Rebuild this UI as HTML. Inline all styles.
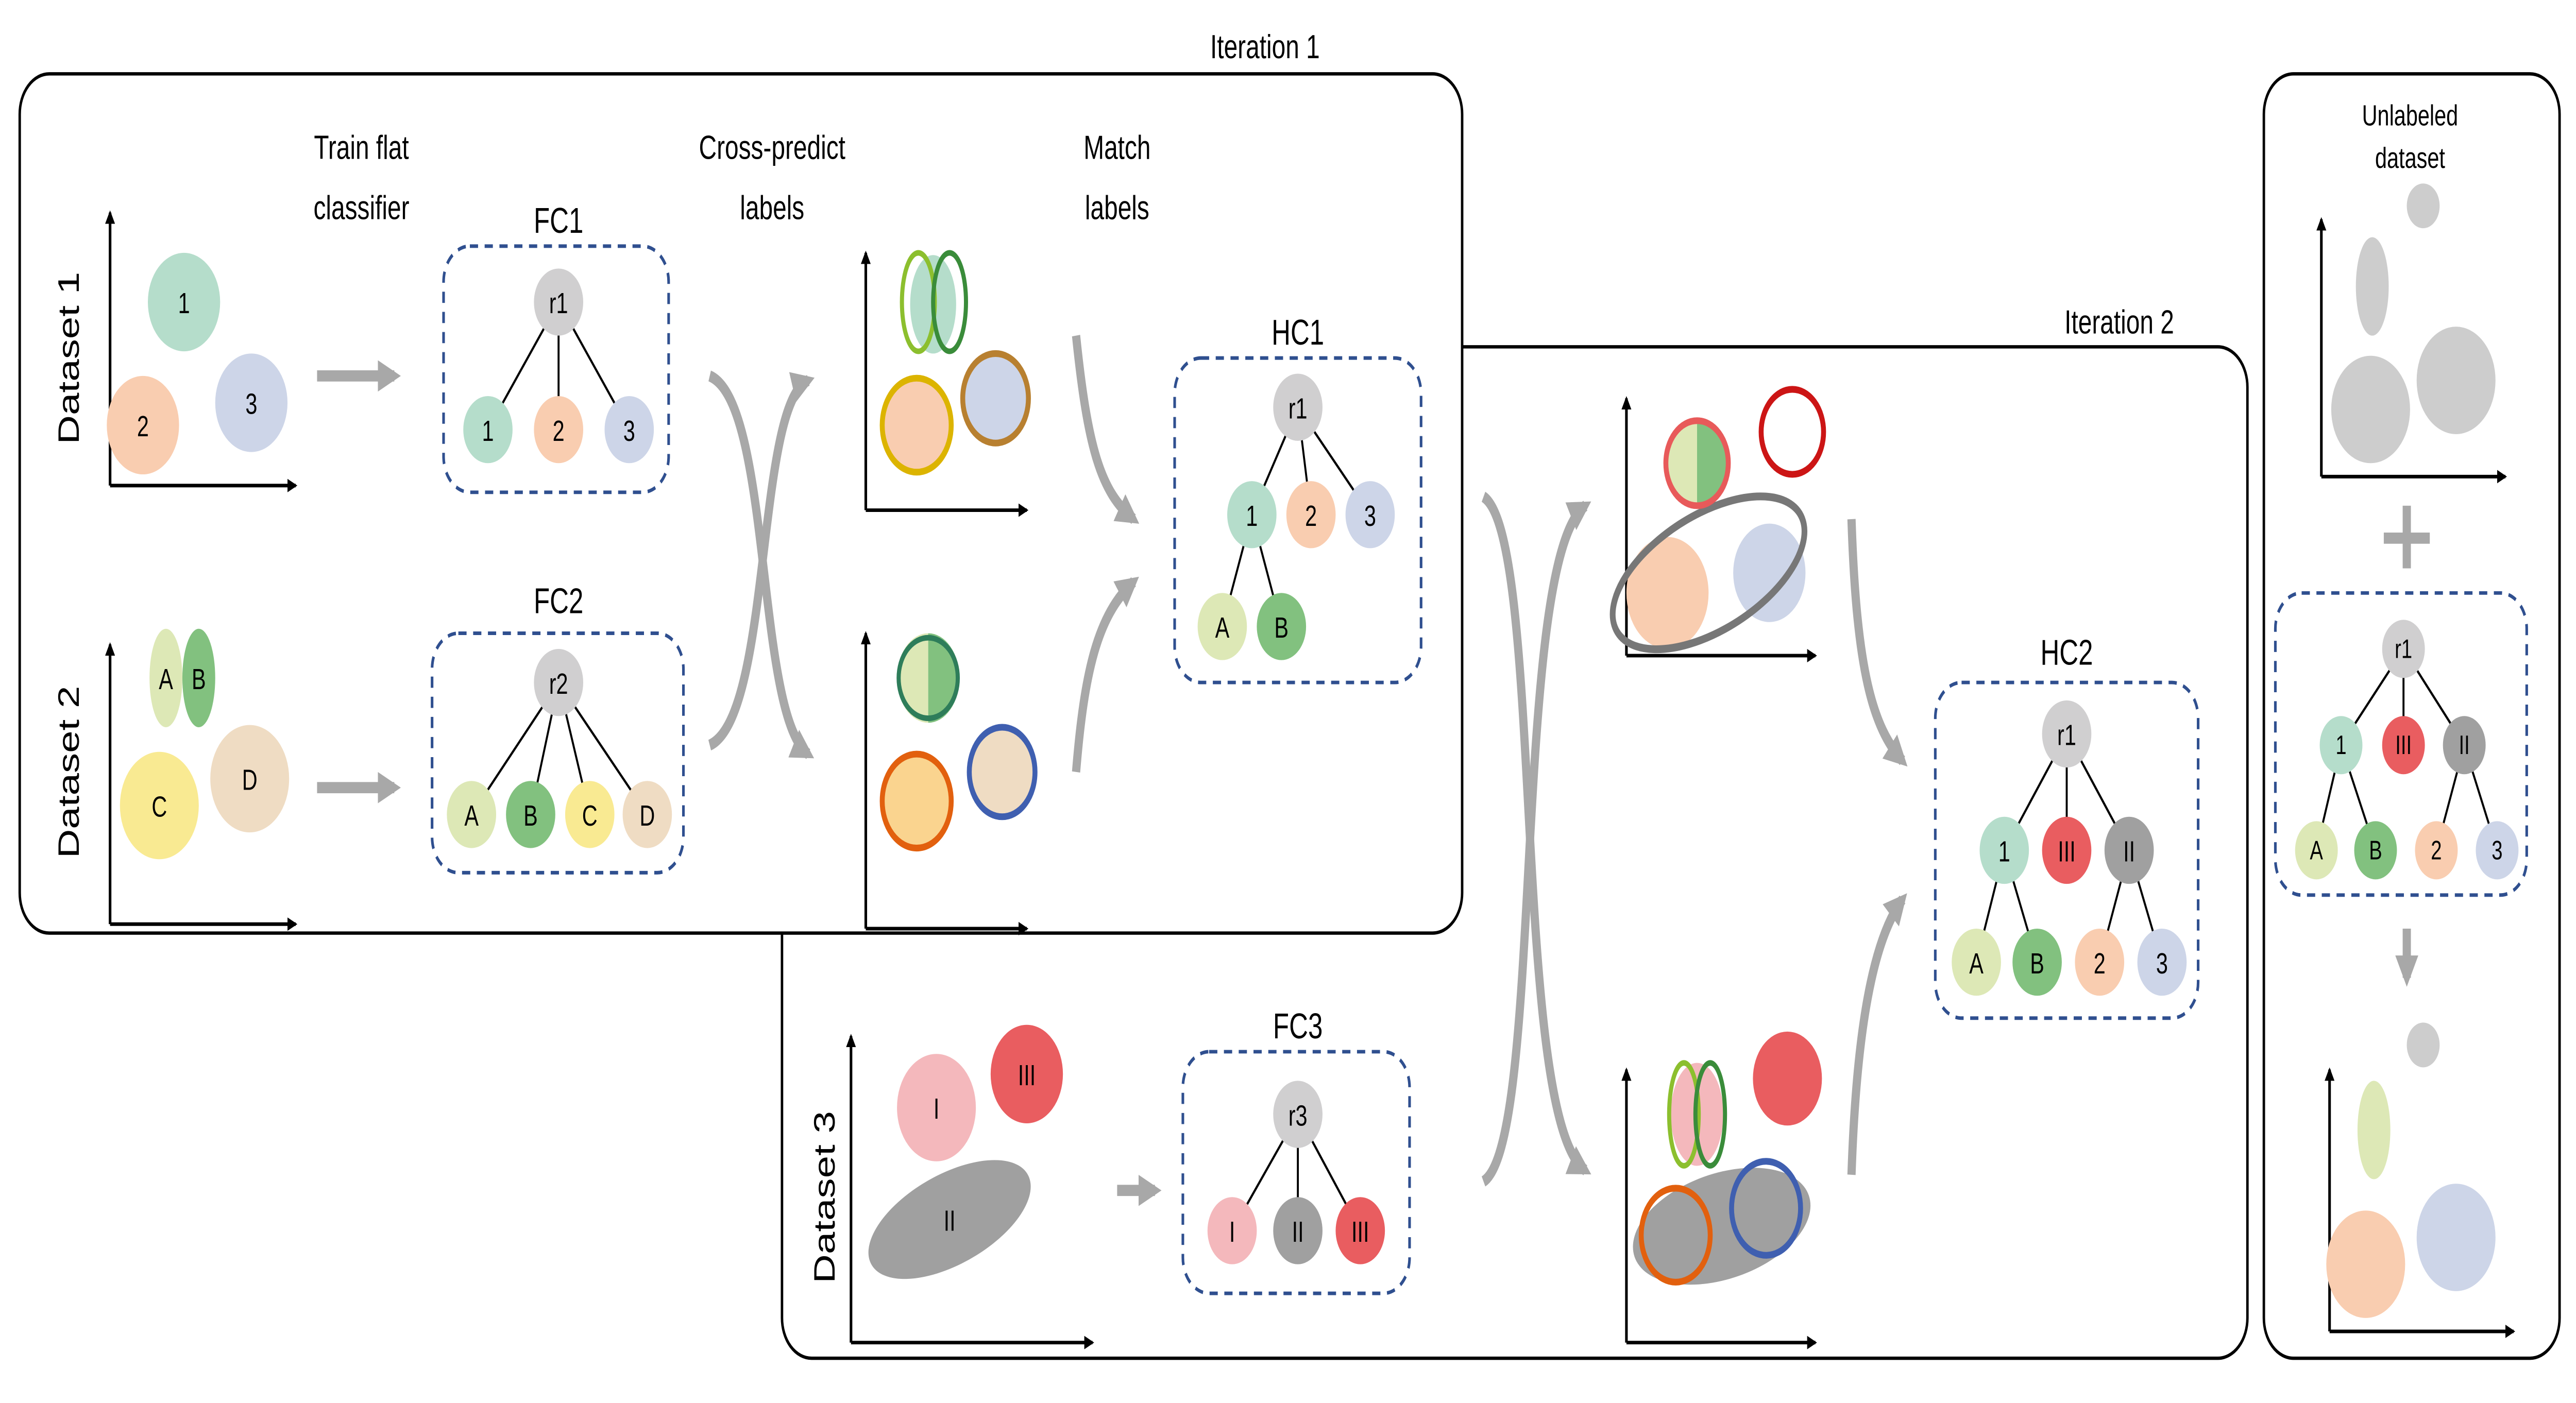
<!DOCTYPE html>
<html><head><meta charset="utf-8"><style>
html,body{margin:0;padding:0;background:#fff;overflow:hidden;width:100%;height:100%;}
svg{display:block;width:100vw;height:100vh;}
text{font-family:"Liberation Sans",sans-serif;}
</style></head><body>
<svg viewBox="0 0 1568 627" preserveAspectRatio="none" xmlns="http://www.w3.org/2000/svg">
<defs>
<marker id="ah" markerWidth="6" markerHeight="6" refX="5" refY="3" orient="auto" markerUnits="userSpaceOnUse" viewBox="0 0 6 6"><path d="M0,0 L6,3 L0,6 z" fill="#000"/></marker>
<marker id="gh" markerWidth="14" markerHeight="14" refX="10" refY="7" orient="auto" markerUnits="userSpaceOnUse" viewBox="0 0 14 14"><path d="M0,0 L14,7 L0,14 z" fill="#a8a8a8"/></marker>
</defs>
<rect width="1568" height="627" fill="#fff"/>
<rect x="476" y="155" width="892" height="452" rx="18" fill="#fff" stroke="#000" stroke-width="1.5"/>
<rect x="12" y="33" width="878" height="384" rx="18" fill="#fff" stroke="#000" stroke-width="1.5"/>
<rect x="1378" y="33" width="180" height="574" rx="18" fill="#fff" stroke="#000" stroke-width="1.5"/>
<text x="770" y="26" font-size="15" text-anchor="middle">Iteration 1</text>
<text x="1290" y="149" font-size="15" text-anchor="middle">Iteration 2</text>

<g font-size="15" text-anchor="middle">
<text x="220" y="71">Train flat</text><text x="220" y="98">classifier</text>
<text x="470" y="71">Cross-predict</text><text x="470" y="98">labels</text>
<text x="680" y="71">Match</text><text x="680" y="98">labels</text>
<text x="1467" y="56" font-size="13">Unlabeled</text><text x="1467" y="75" font-size="13">dataset</text>
<text x="340" y="104" font-size="16">FC1</text>
<text x="340" y="274" font-size="16">FC2</text>
<text x="790" y="154" font-size="16">HC1</text>
<text x="1258" y="297" font-size="16">HC2</text>
<text x="790" y="464" font-size="16">FC3</text>
</g>
<g font-size="18" text-anchor="middle">
<text transform="translate(48,160) rotate(-90)">Dataset 1</text>
<text transform="translate(48,345) rotate(-90)">Dataset 2</text>
<text transform="translate(508,535) rotate(-90)">Dataset 3</text>
</g>

<g stroke="#000" stroke-width="1.6" fill="none">
<path d="M67,217 V95" marker-end="url(#ah)"/><path d="M67,217 H180" marker-end="url(#ah)"/>
<path d="M67,413 V288" marker-end="url(#ah)"/><path d="M67,413 H180" marker-end="url(#ah)"/>
<path d="M527,228 V113" marker-end="url(#ah)"/><path d="M527,228 H625" marker-end="url(#ah)"/>
<path d="M527,415 V283" marker-end="url(#ah)"/><path d="M527,415 H625" marker-end="url(#ah)"/>
<path d="M990,293 V178" marker-end="url(#ah)"/><path d="M990,293 H1105" marker-end="url(#ah)"/>
<path d="M990,600 V478" marker-end="url(#ah)"/><path d="M990,600 H1105" marker-end="url(#ah)"/>
<path d="M518,600 V463" marker-end="url(#ah)"/><path d="M518,600 H665" marker-end="url(#ah)"/>
<path d="M1413,213 V98" marker-end="url(#ah)"/><path d="M1413,213 H1525" marker-end="url(#ah)"/>
<path d="M1418,595 V478" marker-end="url(#ah)"/><path d="M1418,595 H1530" marker-end="url(#ah)"/>
</g>

<g font-size="13" text-anchor="middle">
<circle cx="112" cy="135" r="22" fill="#b5ddcb"/><text x="112" y="140">1</text>
<circle cx="87" cy="190" r="22" fill="#f9cdb0"/><text x="87" y="195">2</text>
<circle cx="153" cy="180" r="22" fill="#cdd5e8"/><text x="153" y="185">3</text>
<ellipse cx="101" cy="303" rx="10" ry="22" fill="#dde8b6"/><text x="101" y="308">A</text>
<ellipse cx="121" cy="303" rx="10" ry="22" fill="#82c17f"/><text x="121" y="308">B</text>
<circle cx="97" cy="360" r="24" fill="#f9ea92"/><text x="97" y="365">C</text>
<circle cx="152" cy="348" r="24" fill="#efdcc3"/><text x="152" y="353">D</text>
<ellipse cx="578" cy="545" rx="52" ry="21" transform="rotate(-20 578 545)" fill="#a0a0a0"/><text x="578" y="550">II</text>
<circle cx="570" cy="495" r="24" fill="#f4b8bc"/><text x="570" y="500">I</text>
<circle cx="625" cy="480" r="22" fill="#e95d60"/><text x="625" y="485">III</text>
</g>

<g stroke="#a8a8a8" stroke-width="5" fill="none">
<path d="M193,168 H240" marker-end="url(#gh)"/>
<path d="M193,352 H240" marker-end="url(#gh)"/>
<path d="M680,532 H703" marker-end="url(#gh)"/>
<path d="M1465,415 V437" marker-end="url(#gh)"/>
<path d="M432,168 C470,180 460,320 492,337" marker-end="url(#gh)"/>
<path d="M432,333 C470,320 460,180 492,170" marker-end="url(#gh)"/>
<path d="M655,150 C662,200 670,220 690,232" marker-end="url(#gh)"/>
<path d="M655,345 C660,300 668,275 690,260" marker-end="url(#gh)"/>
<path d="M903,222 C940,240 920,500 965,523" marker-end="url(#gh)"/>
<path d="M903,528 C940,510 920,250 965,226" marker-end="url(#gh)"/>
<path d="M1127,232 C1130,300 1140,325 1158,340" marker-end="url(#gh)"/>
<path d="M1127,525 C1130,460 1140,420 1158,402" marker-end="url(#gh)"/>
</g>
<rect x="1451" y="238" width="28" height="5" fill="#a8a8a8"/><rect x="1462.5" y="226" width="5" height="28" fill="#a8a8a8"/>

<ellipse cx="568" cy="136" rx="14" ry="22" fill="#b5ddcb"/>
<ellipse cx="559" cy="135" rx="10" ry="22" fill="none" stroke="#8cbf2e" stroke-width="2.5"/>
<ellipse cx="578" cy="135" rx="10" ry="22" fill="none" stroke="#3a8c3a" stroke-width="2.5"/>
<circle cx="558" cy="190" r="21" fill="#f9cdb0" stroke="#dcb400" stroke-width="3"/>
<circle cx="606" cy="178" r="20" fill="#cdd5e8" stroke="#b88030" stroke-width="3"/>
<path d="M565,283 A19,20 0 0 0 565,323 Z" fill="#dde8b6"/><path d="M565,283 A19,20 0 0 1 565,323 Z" fill="#82c17f"/>
<circle cx="565" cy="303" r="18" fill="none" stroke="#2e7d5a" stroke-width="2.5"/>
<circle cx="558" cy="358" r="21" fill="#fad48f" stroke="#e2600e" stroke-width="3"/>
<circle cx="610" cy="345" r="20" fill="#efdcc3" stroke="#3f5fb0" stroke-width="3"/>

<circle cx="1015" cy="265" r="25" fill="#f9cdb0"/>
<circle cx="1077" cy="256" r="22" fill="#cdd5e8"/>
<ellipse cx="1040" cy="256" rx="62" ry="27" transform="rotate(-22 1040 256)" fill="none" stroke="#777" stroke-width="3.5"/>
<path d="M1033,187 A19,20 0 0 0 1033,227 Z" fill="#dde8b6"/><path d="M1033,187 A19,20 0 0 1 1033,227 Z" fill="#82c17f"/>
<circle cx="1033" cy="207" r="19" fill="none" stroke="#e85a5a" stroke-width="3"/>
<circle cx="1091" cy="193" r="19" fill="none" stroke="#cc1515" stroke-width="3"/>
<ellipse cx="1048" cy="548" rx="55" ry="24" transform="rotate(-12 1048 548)" fill="#a0a0a0"/>
<circle cx="1020" cy="552" r="21" fill="none" stroke="#e2600e" stroke-width="3"/>
<circle cx="1075" cy="540" r="21" fill="none" stroke="#3f5fb0" stroke-width="3"/>
<ellipse cx="1033" cy="498" rx="16" ry="23" fill="#f4b8bc"/>
<ellipse cx="1025" cy="498" rx="9" ry="23" fill="none" stroke="#8cbf2e" stroke-width="2.5"/>
<ellipse cx="1041" cy="498" rx="9" ry="23" fill="none" stroke="#3a8c3a" stroke-width="2.5"/>
<circle cx="1088" cy="482" r="21" fill="#e95d60"/>

<circle cx="1475" cy="92" r="10" fill="#cdcdcd"/>
<ellipse cx="1444" cy="128" rx="10" ry="22" fill="#cdcdcd"/>
<circle cx="1443" cy="183" r="24" fill="#cdcdcd"/>
<circle cx="1495" cy="170" r="24" fill="#cdcdcd"/>
<circle cx="1475" cy="467" r="10" fill="#cdcdcd"/>
<ellipse cx="1445" cy="505" rx="10" ry="22" fill="#dde8b6"/>
<circle cx="1440" cy="565" r="24" fill="#f9cdb0"/>
<circle cx="1495" cy="553" r="24" fill="#cdd5e8"/>

<g fill="none" stroke="#2f4f8f" stroke-width="1.6" stroke-dasharray="5,4">
<rect x="270" y="110" width="137" height="110" rx="16"/>
<rect x="263" y="283" width="153" height="107" rx="16"/>
<rect x="715" y="160" width="150" height="145" rx="16"/>
<rect x="1178" y="305" width="160" height="150" rx="16"/>
<rect x="720" y="470" width="138" height="108" rx="16"/>
<rect x="1385" y="265" width="153" height="135" rx="16"/>
</g>

<g stroke="#000" stroke-width="1.2">
<path d="M340,135 L297,192 M340,135 L340,192 M340,135 L383,192"/>
<path d="M340,305 L287,364 M340,305 L323,364 M340,305 L359,364 M340,305 L394,364"/>
<path d="M790,182 L762,230 M790,182 L798,230 M790,182 L834,230 M762,230 L744,280 M762,230 L780,280"/>
<path d="M1258,328 L1220,380 M1258,328 L1258,380 M1258,328 L1296,380 M1220,380 L1203,430 M1220,380 L1240,430 M1296,380 L1278,430 M1296,380 L1316,430"/>
<path d="M790,498 L750,550 M790,498 L790,550 M790,498 L828,550"/>
<path d="M1463,290 L1425,333 M1463,290 L1463,333 M1463,290 L1500,333 M1425,333 L1410,380 M1425,333 L1446,380 M1500,333 L1483,380 M1500,333 L1520,380"/>
</g>
<g font-size="13" text-anchor="middle">
<circle cx="340" cy="135" r="15" fill="#d0cfd0"/><text x="340" y="140">r1</text>
<circle cx="297" cy="192" r="15" fill="#b5ddcb"/><text x="297" y="197">1</text>
<circle cx="340" cy="192" r="15" fill="#f9cdb0"/><text x="340" y="197">2</text>
<circle cx="383" cy="192" r="15" fill="#cdd5e8"/><text x="383" y="197">3</text>
<circle cx="340" cy="305" r="15" fill="#d0cfd0"/><text x="340" y="310">r2</text>
<circle cx="287" cy="364" r="15" fill="#dde8b6"/><text x="287" y="369">A</text>
<circle cx="323" cy="364" r="15" fill="#82c17f"/><text x="323" y="369">B</text>
<circle cx="359" cy="364" r="15" fill="#f9ea92"/><text x="359" y="369">C</text>
<circle cx="394" cy="364" r="15" fill="#efdcc3"/><text x="394" y="369">D</text>
<circle cx="790" cy="182" r="15" fill="#d0cfd0"/><text x="790" y="187">r1</text>
<circle cx="762" cy="230" r="15" fill="#b5ddcb"/><text x="762" y="235">1</text>
<circle cx="798" cy="230" r="15" fill="#f9cdb0"/><text x="798" y="235">2</text>
<circle cx="834" cy="230" r="15" fill="#cdd5e8"/><text x="834" y="235">3</text>
<circle cx="744" cy="280" r="15" fill="#dde8b6"/><text x="744" y="285">A</text>
<circle cx="780" cy="280" r="15" fill="#82c17f"/><text x="780" y="285">B</text>
<circle cx="1258" cy="328" r="15" fill="#d0cfd0"/><text x="1258" y="333">r1</text>
<circle cx="1220" cy="380" r="15" fill="#b5ddcb"/><text x="1220" y="385">1</text>
<circle cx="1258" cy="380" r="15" fill="#e95d60"/><text x="1258" y="385">III</text>
<circle cx="1296" cy="380" r="15" fill="#a0a0a0"/><text x="1296" y="385">II</text>
<circle cx="1203" cy="430" r="15" fill="#dde8b6"/><text x="1203" y="435">A</text>
<circle cx="1240" cy="430" r="15" fill="#82c17f"/><text x="1240" y="435">B</text>
<circle cx="1278" cy="430" r="15" fill="#f9cdb0"/><text x="1278" y="435">2</text>
<circle cx="1316" cy="430" r="15" fill="#cdd5e8"/><text x="1316" y="435">3</text>
<circle cx="790" cy="498" r="15" fill="#d0cfd0"/><text x="790" y="503">r3</text>
<circle cx="750" cy="550" r="15" fill="#f4b8bc"/><text x="750" y="555">I</text>
<circle cx="790" cy="550" r="15" fill="#a0a0a0"/><text x="790" y="555">II</text>
<circle cx="828" cy="550" r="15" fill="#e95d60"/><text x="828" y="555">III</text>
</g>
<g font-size="12" text-anchor="middle">
<circle cx="1463" cy="290" r="13" fill="#d0cfd0"/><text x="1463" y="294">r1</text>
<circle cx="1425" cy="333" r="13" fill="#b5ddcb"/><text x="1425" y="337">1</text>
<circle cx="1463" cy="333" r="13" fill="#e95d60"/><text x="1463" y="337">III</text>
<circle cx="1500" cy="333" r="13" fill="#a0a0a0"/><text x="1500" y="337">II</text>
<circle cx="1410" cy="380" r="13" fill="#dde8b6"/><text x="1410" y="384">A</text>
<circle cx="1446" cy="380" r="13" fill="#82c17f"/><text x="1446" y="384">B</text>
<circle cx="1483" cy="380" r="13" fill="#f9cdb0"/><text x="1483" y="384">2</text>
<circle cx="1520" cy="380" r="13" fill="#cdd5e8"/><text x="1520" y="384">3</text>
</g>
</svg>
</body></html>
